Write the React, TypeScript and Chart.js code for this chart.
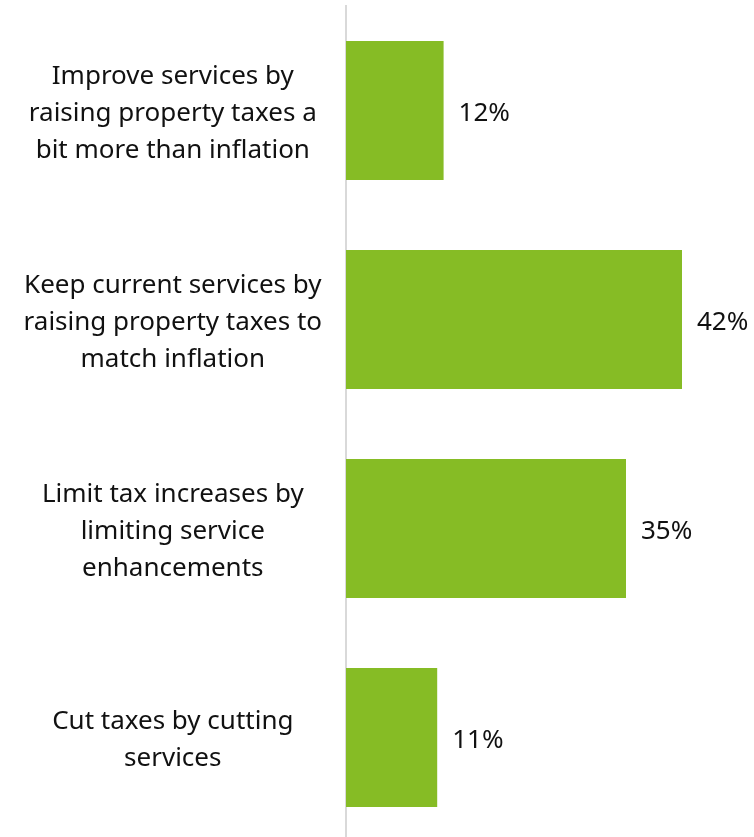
import React, { useEffect, useRef } from "react";
import { Chart, registerables } from "chart.js";

Chart.register(...registerables);

const categories: string[][] = [
  ["Improve services by", "raising property taxes a", "bit more than inflation"],
  ["Keep current services by", "raising property taxes to", "match inflation"],
  ["Limit tax increases by", "limiting service", "enhancements"],
  ["Cut taxes by cutting", "services"],
];
const values: number[] = [12.2, 42, 35, 11.4];

const FONT = "'Noto Sans', 'Open Sans', sans-serif";

const valueLabelPlugin = {
  id: "valueLabels",
  afterDatasetsDraw(chart: any) {
    const ctx = chart.ctx;
    const meta = chart.getDatasetMeta(0);
    ctx.save();
    ctx.font = `26px ${FONT}`;
    ctx.fillStyle = "#111111";
    ctx.textAlign = "left";
    ctx.textBaseline = "middle";
    meta.data.forEach((bar: any, i: number) => {
      ctx.fillText(`${Math.round(values[i])}%`, bar.x + 15, bar.y + 3);
    });
    ctx.restore();
    // nudge the category labels (drawn next, on their own layer) slightly down
    ctx.save();
    ctx.translate(0, 3);
  },
  afterDraw(chart: any) {
    chart.ctx.restore();
  },
};

export default function App() {
  const ref = useRef<HTMLCanvasElement | null>(null);
  useEffect(() => {
    if (!ref.current) return;
    const chart = new Chart(ref.current, {
      type: "bar",
      data: {
        labels: categories,
        datasets: [
          {
            data: values,
            backgroundColor: "#86BC25",
            borderWidth: 0,
            categoryPercentage: 0.665,
            barPercentage: 1,
          },
        ],
      },
      options: {
        indexAxis: "y",
        animation: false,
        responsive: false,
        maintainAspectRatio: false,
        layout: { padding: { top: 6, bottom: 0, left: 0, right: 0 } },
        plugins: { legend: { display: false }, tooltip: { enabled: false } },
        scales: {
          x: { display: false, min: 0, max: 51 },
          y: {
            afterFit: (scale: any) => {
              scale.width = 346;
              scale.paddingTop = 0;
              scale.paddingBottom = 0;
            },
            grid: { display: false, drawTicks: false },
            border: { display: true, color: "#d9d9d9", width: 2 },
            ticks: {
              z: 1,
              crossAlign: "center",
              padding: 24,
              color: "#111111",
              font: { family: FONT, size: 26, lineHeight: 1.42 },
            },
          },
        },
      },
      plugins: [valueLabelPlugin],
    });
    return () => chart.destroy();
  }, []);
  return (
    <div style={{ position: "absolute", left: 0, top: 0, width: 754, height: 842, background: "#fff" }}>
      <canvas ref={ref} width={754} height={842} style={{ display: "block" }} />
    </div>
  );
}
